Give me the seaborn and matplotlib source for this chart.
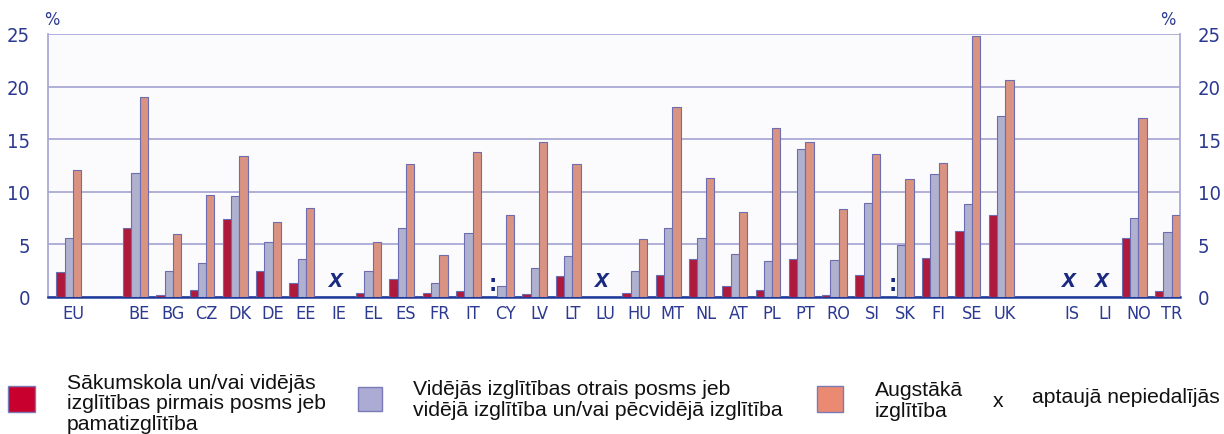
import pandas as pd
import matplotlib.pyplot as plt
import seaborn as sns
from matplotlib.patches import Rectangle

# slots on the x axis, "" = empty gap
countries = ["EU", "", "BE", "BG", "CZ", "DK", "DE", "EE", "IE", "EL", "ES", "FR",
             "IT", "CY", "LV", "LT", "LU", "HU", "MT", "NL", "AT", "PL", "PT", "RO",
             "SI", "SK", "FI", "SE", "UK", "", "IS", "LI", "NO", "TR"]

primary = [2.4, None, 6.6, 0.2, 0.7, 7.4, 2.5, 1.3, None, 0.4, 1.7, 0.4,
           0.6, None, 0.3, 2.0, None, 0.4, 2.1, 3.6, 1.0, 0.7, 3.6, 0.2,
           2.1, None, 3.7, 6.3, 7.8, None, None, None, 5.6, 0.6]
upper_secondary = [5.6, None, 11.8, 2.5, 3.2, 9.6, 5.2, 3.6, None, 2.5, 6.6, 1.3,
                   6.1, 1.0, 2.8, 3.9, None, 2.5, 6.6, 5.6, 4.1, 3.4, 14.1, 3.5,
                   8.9, 4.9, 11.7, 8.8, 17.2, None, None, None, 7.5, 6.2]
tertiary = [12.1, None, 19.0, 6.0, 9.7, 13.4, 7.1, 8.5, None, 5.2, 12.6, 4.0,
            13.8, 7.8, 14.7, 12.6, None, 5.5, 18.1, 11.3, 8.1, 16.1, 14.7, 8.4,
            13.6, 11.2, 12.7, 24.8, 20.6, None, None, None, 17.0, 7.8]

not_participating = ["IE", "LU", "IS", "LI"]   # "x"
not_available = ["CY", "SK"]                   # ":" for primary

levels = ["primary", "upper_secondary", "tertiary"]
colors = ["#c8002e", "#ababd4", "#ea8a72"]

legend_labels = ["Sākumskola un/vai vidējās\nizglītības pirmais posms jeb\npamatizglītība",
                 "Vidējās izglītības otrais posms jeb\nvidējā izglītība un/vai pēcvidējā izglītība",
                 "Augstākā\nizglītība"]

rows = []
for i, c in enumerate(countries):
    for lev, vals in zip(levels, [primary, upper_secondary, tertiary]):
        if c and vals[i] is not None:
            rows.append({"pos": i, "level": lev, "value": vals[i]})
df = pd.DataFrame(rows)

sns.set_theme(style="white")
plt.rcParams['font.family'] = ['Liberation Sans', 'DejaVu Sans']

navy = "#2b3990"
grid_col = "#a9a9d6"
axis_font = dict(family="DejaVu Sans", stretch="condensed")

fig = plt.figure(figsize=(12.24, 4.35), dpi=100)
ax = fig.add_axes([48 / 1224, 1 - 298 / 435, 1132 / 1224, 263 / 435])
ax.set_facecolor("#fbfbfd")

sns.barplot(data=df, x="pos", y="value", hue="level", hue_order=levels,
            palette=colors, native_scale=True, width=0.75, errorbar=None,
            edgecolor="#6c6cb0", linewidth=0.8, legend=False, ax=ax, zorder=3)

n = len(countries)
ax.set_xlim(-0.625, n - 0.625)
ax.set_ylim(0, 25)
ax.set_yticks([0, 5, 10, 15, 20, 25])
ax.yaxis.grid(True, color=grid_col, linewidth=1.3, zorder=0)
ax.set_axisbelow(True)

tick_pos = [i + 0.125 for i, c in enumerate(countries) if c]
ax.set_xticks(tick_pos)
ax.set_xticklabels([c for c in countries if c])
ax.tick_params(axis="x", length=0, pad=5, labelsize=13, labelcolor=navy)
ax.tick_params(axis="y", length=0, pad=13, labelsize=14.5, labelcolor=navy,
               labelleft=True, labelright=True)
for lab in ax.get_xticklabels() + ax.get_yticklabels():
    lab.set_fontfamily(axis_font["family"])
    lab.set_fontstretch(axis_font["stretch"])
ax.set_xlabel("")
ax.set_ylabel("")

for s in ["left", "right"]:
    ax.spines[s].set_color(grid_col)
    ax.spines[s].set_linewidth(1.3)
ax.spines["top"].set_visible(False)
ax.spines["bottom"].set_color("#1e3a9a")
ax.spines["bottom"].set_linewidth(1.8)

for i, c in enumerate(countries):
    if c in not_participating:
        ax.text(i, 0.6, "x", ha="center", va="bottom", fontsize=18,
                fontweight="bold", fontstyle="italic", color="#1a2a80", zorder=4)
    if c in not_available:
        ax.text(i - 0.25, 0.2, ":", ha="center", va="bottom", fontsize=18,
                fontweight="bold", color="#1a2a80", zorder=4)

fig.text(52 / 1224, 1 - 20 / 435, "%", fontsize=13, color=navy, ha="center", va="center",
         **axis_font)
fig.text(1168 / 1224, 1 - 20 / 435, "%", fontsize=13, color=navy, ha="center", va="center",
         **axis_font)

# legend drawn below the chart
squares = [(8, 387, 27, 26), (358, 388, 24, 24), (817, 387, 26, 26)]
text_x = [67, 413, 875]
text_y = [404, 400, 401]
for (x, y, w, h), col, lab, tx, ty in zip(squares, colors, legend_labels, text_x, text_y):
    fig.patches.append(Rectangle((x / 1224, 1 - (y + h) / 435), w / 1224, h / 435,
                                 transform=fig.transFigure, facecolor=col,
                                 edgecolor="#7a7ab8", linewidth=1))
    fig.text(tx / 1224, 1 - ty / 435, lab, fontsize=15.2, color="#111111",
             ha="left", va="center", linespacing=1.1)
fig.text(998 / 1224, 1 - 402 / 435, "x", fontsize=15.2, color="#111111", ha="center", va="center")
fig.text(1032 / 1224, 1 - 398 / 435, "aptaujā nepiedalījās", fontsize=15.2,
         color="#111111", ha="left", va="center")

fig.savefig("out.png", dpi=100)
